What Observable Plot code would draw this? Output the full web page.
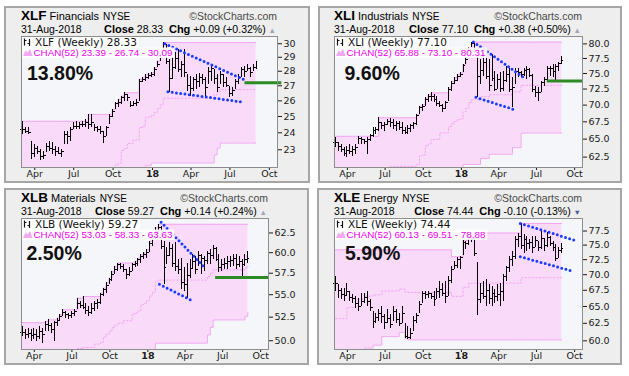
<!DOCTYPE html>
<html><head><meta charset="utf-8">
<script src="https://cdn.jsdelivr.net/npm/d3@7"></script>
<script src="https://cdn.jsdelivr.net/npm/@observablehq/plot@0.6"></script>
<style>
html,body{margin:0;padding:0;background:#fff;}
#root{position:relative;width:629px;height:376px;overflow:hidden;background:#fff;}
.panel{position:absolute;box-sizing:border-box;border:2px solid #a6a6a6;background:#eeeeee;}
</style></head><body><div id="root"></div>
<script>
// ---------- labels ----------
const symbols = ["XLF","XLI","XLB","XLE"];
const sectorNames = ["Financials","Industrials","Materials","Energy"];
const exchange = "NYSE";
const asOfDate = "31-Aug-2018";
const closeValues = ["28.33","77.10","59.27","74.44"];
const changeValues = ["+0.09","+0.38","+0.14","-0.10"];
const changePcts = ["+0.32%","+0.50%","+0.24%","-0.13%"];
const chanLabels = [["23.39","26.74","30.09"],["65.88","73.10","80.31"],["53.03","58.33","63.63"],["60.13","69.51","78.88"]];
const perfLabels = ["13.80%","9.60%","2.50%","5.90%"];
const firstWeek = "2017-03-03";
const xTickDates = ["2017-04-01","2017-07-01","2017-10-01","2018-01-01","2018-04-01","2018-07-01","2018-10-01"];
const xlfTicks = [23,24,25,26,27,28,29,30];
const xliTicks = [62.5,65,67.5,70,72.5,75,77.5,80];
const xlbTicks = [50,52.5,55,57.5,60,62.5];
const xleTicks = [60,62.5,65,67.5,70,72.5,75,77.5];

// ---------- weekly bars (high / low / close) ----------
const xlfHigh = [24.67,24.35,24.31,23.46,23.31,23.21,23.02,22.92,23.35,23.46,23.40,23.21,23.12,23.02,24.10,24.10,24.31,24.61,24.71,24.61,24.71,24.81,25.13,25.10,24.51,24.41,24.41,24.10,24.41,25.13,25.45,25.87,26.09,26.31,26.53,26.42,25.98,25.98,26.09,27.44,27.55,27.78,27.83,27.89,28.25,28.72,29.20,30.09,29.95,28.85,28.97,29.33,29.57,28.72,29.57,27.78,27.66,27.55,27.78,27.83,27.78,27.55,28.25,28.48,28.13,27.78,28.00,27.78,27.55,26.98,26.87,27.44,27.78,28.25,28.36,28.48,28.25,28.48,28.72];
const xlfLow = [23.90,23.94,23.90,22.44,22.58,22.73,22.39,22.44,22.83,22.92,22.73,22.63,22.73,22.58,23.31,23.31,23.50,24.20,24.20,24.20,24.31,24.31,24.20,24.31,24.10,24.00,23.90,23.39,23.80,24.51,24.92,25.45,25.55,25.77,25.98,25.98,25.55,25.66,25.66,25.98,27.20,27.32,27.44,27.60,27.66,28.25,28.72,29.50,28.48,26.53,27.44,28.13,27.90,27.55,27.55,26.64,26.31,26.64,26.76,26.87,27.09,26.20,27.09,27.32,27.09,26.53,27.09,26.87,26.87,26.20,26.31,26.76,27.09,27.55,27.55,28.01,27.55,28.00,28.13];
const xlfClose = [24.20,24.10,24.00,22.80,23.10,22.90,22.60,22.70,23.20,23.10,23.00,22.90,22.80,22.90,23.90,23.80,24.20,24.40,24.40,24.50,24.50,24.60,24.50,24.60,24.30,24.20,24.10,23.80,24.30,25.00,25.30,25.80,25.90,26.20,26.40,26.20,25.70,25.80,25.90,27.30,27.40,27.60,27.70,27.80,28.10,28.50,29.00,30.00,28.70,27.50,28.30,28.90,28.10,28.50,27.90,27.00,26.80,27.40,27.30,27.60,27.40,26.90,28.00,28.20,27.50,26.90,27.80,27.20,27.00,26.50,26.70,27.30,27.60,28.10,28.00,28.20,27.90,28.24,28.33];

const xliHigh = [65.2,64.5,64.25,63.8,64.0,64.25,64.0,64.25,65.4,65.2,64.95,65.2,65.7,66.6,66.6,68.1,67.35,67.35,67.85,68.0,67.85,67.6,67.5,67.35,66.6,66.9,67.1,67.35,68.6,69.85,70.1,71.1,71.65,71.9,71.65,71.4,70.6,70.1,70.6,72.7,73.75,74.3,74.85,75.1,76.5,77.6,79.3,80.31,80.1,78.4,77.3,78.4,77.9,77.3,78.2,75.35,74.85,75.1,75.35,76.2,75.9,74.3,75.9,75.9,75.35,75.9,76.2,75.9,74.85,72.95,72.7,73.75,74.3,76.2,76.2,76.5,76.5,76.75,77.9];
const xliLow = [63.8,63.3,63.1,62.65,62.4,62.9,62.65,62.9,64.25,64.25,64.25,62.9,64.7,65.2,65.7,66.1,66.4,66.1,66.9,66.6,66.4,66.1,66.25,65.7,65.7,65.7,65.9,66.4,66.9,68.6,69.1,69.85,70.35,70.6,70.35,69.85,69.6,68.85,69.35,70.6,72.15,73.2,73.75,74.3,75.1,76.5,78.2,79.3,78.4,71.1,73.2,74.5,74.0,72.15,73.75,72.15,72.4,71.9,72.15,73.5,71.9,69.7,73.2,74.3,74.3,74.55,74.0,74.3,71.9,71.1,70.6,71.9,72.95,73.75,74.55,74.3,73.75,75.35,76.5];
const xliClose = [64.5,63.9,63.6,63.0,63.4,63.3,63.6,63.8,65.1,64.9,64.7,64.9,65.5,66.2,66.4,67.4,66.9,67.1,67.5,67.4,67.0,67.2,66.6,66.2,66.0,66.5,66.9,67.2,68.4,69.6,69.8,70.8,71.3,71.4,70.9,70.3,69.9,69.5,70.4,72.5,73.4,73.9,74.5,74.9,76.3,77.4,79.0,80.0,78.7,74.5,75.5,76.8,74.5,73.0,74.2,72.5,74.0,72.6,73.9,74.9,72.4,72.7,75.3,75.2,74.8,75.5,75.7,74.6,72.5,72.0,71.9,73.5,74.1,75.8,75.9,75.3,76.2,76.7,77.1];

const xlbHigh = [51.5,51.15,51.3,51.15,51.3,51.15,51.5,51.3,52.04,52.2,51.86,52.04,52.4,52.76,53.31,53.12,52.94,53.12,53.31,54.6,54.25,54.8,54.06,53.68,54.06,54.25,54.43,55.19,55.76,56.35,56.93,57.73,58.33,58.73,58.73,58.53,57.93,58.13,58.73,58.93,59.34,59.76,59.97,60.38,61.43,62.28,63.16,63.63,63.37,61.43,60.59,61.22,61.0,61.22,59.14,59.34,58.13,58.73,59.14,59.76,59.55,60.17,59.76,59.55,60.17,60.38,60.9,60.59,59.76,59.14,59.34,59.55,59.55,59.76,59.76,59.55,59.14,59.76,60.17];
const xlbLow = [50.4,50.1,50.27,49.92,50.1,49.92,50.1,49.75,50.98,50.98,50.8,49.9,51.5,52.04,52.58,52.4,52.22,52.4,52.58,53.31,53.5,53.31,52.76,52.58,52.76,53.12,53.31,53.87,54.81,55.19,56.15,56.54,57.33,57.73,57.93,57.53,56.74,57.13,57.73,58.13,58.33,58.73,59.14,59.34,59.97,60.8,61.64,62.28,60.38,56.15,58.53,59.55,58.13,57.73,57.33,55.57,55.38,54.62,56.93,57.93,57.33,58.33,57.33,57.73,58.53,58.53,59.14,58.93,57.53,57.73,57.93,57.93,58.13,58.33,57.93,58.13,57.13,58.33,58.73];
const xlbClose = [50.9,50.6,50.8,50.5,50.7,50.4,51.0,50.6,51.7,51.6,51.2,51.9,52.1,52.6,53.0,52.8,52.7,52.9,53.1,54.0,53.8,53.6,53.2,53.0,53.5,54.0,54.1,55.0,55.6,56.0,56.7,57.4,58.0,58.5,58.3,57.9,57.3,57.7,58.5,58.7,59.2,59.5,59.8,60.0,61.2,62.0,62.7,63.2,60.8,58.2,59.6,60.5,58.7,58.3,57.9,56.4,56.2,57.2,58.1,58.9,58.0,59.6,59.3,59.0,59.9,59.6,60.5,59.2,58.2,58.5,58.7,58.9,59.0,59.3,58.6,58.9,58.5,59.1,59.27];

const xleHigh = [69.72,68.4,67.85,67.85,68.65,67.3,66.8,66.54,66.3,67.05,67.05,67.3,66.0,64.25,64.0,64.5,65.0,63.75,64.5,63.75,65.0,64.5,64.0,65.0,62.52,62.0,61.8,63.5,64.0,65.75,67.3,67.3,67.3,67.05,67.3,67.85,68.9,68.65,68.9,69.72,71.4,72.2,72.8,73.0,75.84,75.6,77.14,77.0,76.6,72.0,68.65,68.9,69.2,68.4,68.1,67.58,68.4,68.65,70.0,71.4,73.05,73.9,76.55,77.1,78.88,76.85,76.55,75.95,76.55,76.55,75.65,77.75,76.25,77.15,76.55,75.65,75.1,74.5,75.36];
const xleLow = [67.3,66.3,66.0,65.8,66.54,65.8,65.5,64.75,64.25,65.0,65.5,65.0,64.25,61.8,62.5,62.76,62.52,61.56,62.52,61.8,62.76,62.52,62.0,62.52,60.3,60.13,60.2,61.3,62.52,64.0,65.5,66.0,66.3,66.0,65.0,66.0,66.3,66.54,65.5,66.54,68.65,70.82,71.1,70.82,73.2,74.2,75.0,75.5,73.0,63.6,65.5,66.0,65.0,65.25,65.0,65.5,65.75,65.0,65.75,68.9,70.3,71.4,72.5,74.5,74.2,73.6,73.9,74.2,73.6,74.5,73.9,74.2,73.9,74.5,74.75,73.9,72.2,72.75,73.6];
const xleClose = [68.5,67.5,66.9,66.7,67.3,66.4,66.2,65.4,65.0,65.8,66.4,65.7,64.8,62.8,63.4,63.9,63.5,62.6,63.2,62.4,64.3,63.0,62.5,64.0,60.6,60.4,61.0,62.9,63.7,65.3,67.0,66.8,67.0,66.5,66.0,67.3,67.7,67.0,66.5,69.1,70.8,71.5,72.5,72.8,75.5,75.3,76.5,76.2,73.6,66.0,67.0,66.5,67.5,66.2,67.0,66.5,66.8,67.3,69.7,71.2,72.5,73.0,76.0,76.6,75.0,76.0,75.2,75.5,74.5,75.8,74.5,76.2,75.0,76.3,75.3,74.6,72.7,74.0,74.44];

// ---------- CHAN(52) band levels: [week number, level] where the level changes ----------
const xlfUpper = [[0,24.7],[22,25.13],[30,25.45],[31,25.87],[32,26.09],[33,26.31],[34,26.53],[39,27.44],[40,27.55],[41,27.78],[42,27.83],[43,27.89],[44,28.25],[45,28.72],[46,29.2],[47,30.09]];
const xlfLower = [[0,17.5],[29,18.4],[33,19.6],[35,20.2],[37,20.6],[39,21.2],[41,22.1],[43,22.25],[64,22.7],[65,23.1],[66,23.39]];
const xliUpper = [[0,65.4],[15,68.1],[28,68.6],[29,69.85],[30,70.1],[31,71.1],[32,71.65],[33,71.9],[39,72.7],[40,73.75],[41,74.3],[42,74.85],[43,75.1],[44,76.5],[45,77.6],[46,79.3],[47,80.31]];
const xliLower = [[0,54.0],[19,54.4],[29,55.5],[31,57.0],[33,58.0],[36,59.9],[39,60.8],[44,61.5],[50,62.3],[53,62.9],[61,63.8],[64,65.88]];
const xlbUpper = [[0,51.9],[8,52.04],[9,52.2],[12,52.4],[13,52.76],[14,53.31],[19,54.6],[21,54.8],[27,55.19],[28,55.76],[29,56.35],[30,56.93],[31,57.73],[32,58.33],[33,58.73],[39,58.93],[40,59.34],[41,59.76],[42,59.97],[43,60.38],[44,61.43],[45,62.28],[46,63.16],[47,63.63]];
const xlbLower = [[0,43.5],[19,43.8],[25,44.5],[28,45.0],[35,45.5],[38,47.0],[41,48.0],[43,48.3],[46,49.75],[64,50.6],[65,51.4],[66,52.2],[77,52.6],[78,53.03]];
const xleUpper = [[0,74.18],[40,73.0],[44,75.84],[46,77.14],[64,78.88]];
const xleLower = [[0,52.2],[4,55.5],[7,58.0],[10,59.0],[13,59.4],[16,60.6],[22,61.2],[24,60.3],[25,60.13]];

// ---------- annotations: trend lines [[date, value],[date, value]] and support [from, to, value] ----------
const xlfTrends = [[["2018-01-30",30.0],["2018-08-07",27.36]],[["2018-02-06",26.6],["2018-07-31",25.92]]];
const xliTrends = [[["2018-01-30",80.35],["2018-05-30",74.4]],[["2018-02-05",71.2],["2018-05-14",69.2]]];
const xlbTrends = [[["2018-02-02",63.9],["2018-05-20",58.1]],[["2018-01-29",56.2],["2018-04-17",54.35]]];
const xleTrends = [[["2018-05-23",78.88],["2018-10-02",75.84]],[["2018-05-23",73.0],["2018-09-20",70.7]]];
const xlfSupport = ["2018-08-05","2018-10-30",27.2];
const xliSupport = ["2018-07-27","2018-10-20",73.8];
const xlbSupport = ["2018-06-14","2018-10-20",56.98];

// ---------- layout ----------
const SANS = "'Liberation Sans', Arial, sans-serif";
const DEJAVU = "'DejaVu Sans', Verdana, sans-serif";
const xDomain = [new Date("2017-03-01"), new Date("2018-10-20")];

const PANELS = [
  {frame:[4,6,310,183], plot:[21,36,277,167], high:xlfHigh, low:xlfLow, close:xlfClose, upper:xlfUpper, lower:xlfLower, yDomain:[22.0,30.55], yTicks:xlfTicks, dec:0, trends:xlfTrends, support:xlfSupport, perf:[27,80]},
  {frame:[318,6,622,183], plot:[334,36,582,167], high:xliHigh, low:xliLow, close:xliClose, upper:xliUpper, lower:xliLower, yDomain:[61.1,81.3], yTicks:xliTicks, dec:1, trends:xliTrends, support:xliSupport, perf:[344.5,80]},
  {frame:[4,188,309,365], plot:[21,218,268,349], high:xlbHigh, low:xlbLow, close:xlbClose, upper:xlbUpper, lower:xlbLower, yDomain:[49.1,64.4], yTicks:xlbTicks, dec:1, trends:xlbTrends, support:xlbSupport, perf:[26.5,260]},
  {frame:[317,188,622,365], plot:[334,218,582,349], high:xleHigh, low:xleLow, close:xleClose, upper:xleUpper, lower:xleLower, yDomain:[58.8,79.8], yTicks:xleTicks, dec:1, trends:xleTrends, support:null, perf:[345,260]}
];

const DAY = 864e5;
function weekDate(i){ return new Date(Date.parse(firstWeek) + i*7*DAY); }
function stepValues(points, n){
  const out = []; let k = 0, v = points[0][1];
  for (let i = 0; i < n; i++){ while (k < points.length && points[k][0] <= i){ v = points[k][1]; k++; } out.push(v); }
  return out;
}
const xTicks = xTickDates.map(d => new Date(d));
const fmtMonth = d3.utcFormat("%b");
const fmtX = d => d.getUTCMonth() === 0 ? String(d.getUTCFullYear()).slice(2) : fmtMonth(d);

const root = document.getElementById("root");

PANELS.forEach(cfg => {
  const [fx0,fy0,fx1,fy1] = cfg.frame;
  const div = document.createElement("div");
  div.className = "panel";
  Object.assign(div.style, {left: fx0+"px", top: fy0+"px", width: (fx1-fx0)+"px", height: (fy1-fy0)+"px"});
  root.appendChild(div);
});

PANELS.forEach(cfg => {
  const [l,t,r,b] = cfg.plot;
  const [fx0,fy0,fx1,fy1] = cfg.frame;
  const mL = 1, mT = 1, mB = 16, mR = fx1 - r - 2;
  const n = cfg.high.length;
  const bars = cfg.high.map((h,i) => {
    const d = weekDate(i);
    return {date:d, high:h, low:cfg.low[i], close:cfg.close[i], open: i > 0 ? cfg.close[i-1] : cfg.close[i],
            left:new Date(+d - 3.5*DAY), right:new Date(+d + 3.5*DAY)};
  });
  const up = stepValues(cfg.upper, n), lo = stepValues(cfg.lower, n);
  const band = up.map((u,i) => ({date:weekDate(i), upper:u, lower:lo[i], middle:(u+lo[i])/2}));
  const trends = cfg.trends.flatMap((seg,k) => seg.map(([d,v]) => ({id:k, date:new Date(d), value:v})));
  const pink = "#f2a4f2";
  const marks = [
    Plot.frame({fill:"#f5f6fa"}),
    Plot.areaY(band, {x:"date", y1:"lower", y2:"upper", curve:"step-after", fill:"#f9dbf9", clip:true}),
    Plot.line(band, {x:"date", y:"middle", curve:"step-after", stroke:pink, strokeWidth:1, strokeDasharray:"1.5,2", clip:true}),
    Plot.line(band, {x:"date", y:"upper", curve:"step-after", stroke:pink, strokeWidth:1, clip:true}),
    Plot.line(band, {x:"date", y:"lower", curve:"step-after", stroke:pink, strokeWidth:1, clip:true}),
    Plot.ruleX(bars, {x:"date", y1:"low", y2:"high", stroke:"#000", strokeWidth:1, shapeRendering:"crispEdges"}),
    Plot.ruleY(bars, {y:"close", x1:"date", x2:"right", stroke:"#000", strokeWidth:1, shapeRendering:"crispEdges"}),
    Plot.ruleY(bars, {y:"open", x1:"left", x2:"date", stroke:"#000", strokeWidth:1, shapeRendering:"crispEdges"}),
    Plot.line(trends, {x:"date", y:"value", z:"id", stroke:"#1a3cff", strokeWidth:3, strokeDasharray:"0,4.3", strokeLinecap:"round"})
  ];
  if (cfg.support) {
    marks.push(Plot.ruleY([{from:new Date(cfg.support[0]), to:new Date(cfg.support[1]), value:cfg.support[2]}],
      {y:"value", x1:"from", x2:"to", stroke:"#2e8a22", strokeWidth:3}));
  }
  marks.push(Plot.frame({stroke:"#8d8d8d"}));
  const chart = Plot.plot({
    width: (r - l) + mL + mR, height: (b - t) + mT + mB,
    marginLeft: mL, marginRight: mR, marginTop: mT, marginBottom: mB,
    style: {fontFamily: DEJAVU, fontSize: "9.5px", color: "#1a1a1a", background: "transparent", overflow: "visible"},
    x: {type:"utc", domain:xDomain, ticks:xTicks, tickFormat:fmtX, tickSize:3, tickPadding:0, label:null},
    y: {type:"log", domain:cfg.yDomain, ticks:cfg.yTicks, tickFormat:d => d.toFixed(cfg.dec), axis:"right", tickSize:4, tickPadding:2, label:null},
    marks
  });
  d3.select(chart).selectAll("text").filter(function(){ return this.textContent === "18"; }).attr("font-weight", "bold");
  chart.style.position = "absolute";
  chart.style.left = (l - mL) + "px";
  chart.style.top = (t - mT) + "px";
  chart.style.maxWidth = "none";
  root.appendChild(chart);
});

// ---------- overlay texts ----------
const ov = d3.select(root).append("svg").attr("width", 629).attr("height", 376)
  .style("position","absolute").style("left","0px").style("top","0px").style("overflow","visible");

PANELS.forEach((cfg,k) => {
  const [l,t,r,b] = cfg.plot;
  const [fx0,fy0] = cfg.frame;
  const y1 = fy0 + 14, y2 = fy0 + 27;
  const h1 = ov.append("text").attr("x", l).attr("y", y1).attr("font-family", SANS).attr("fill", "#000");
  h1.append("tspan").attr("font-size", 13.5).attr("font-weight", "bold").text(symbols[k]);
  h1.append("tspan").attr("dx", 3).attr("font-size", 11).text(sectorNames[k]);
  h1.append("tspan").attr("dx", 4).attr("font-size", 10).text(exchange);
  ov.append("text").attr("x", r).attr("y", y1).attr("text-anchor", "end").attr("font-family", SANS)
    .attr("font-size", 10.5).attr("fill", "#4a4a4a").text("©StockCharts.com");
  ov.append("text").attr("x", l).attr("y", y2).attr("font-family", SANS).attr("font-size", 10.5).attr("fill", "#000").text(asOfDate);
  const isUp = changeValues[k][0] !== "-";
  const h2 = ov.append("text").attr("x", r - 1).attr("y", y2).attr("text-anchor", "end")
    .attr("font-family", SANS).attr("font-size", 10.5).attr("fill", "#000");
  h2.append("tspan").attr("font-weight", "bold").attr("font-size", 11).text("Close");
  h2.append("tspan").text(" " + closeValues[k] + "\u00a0 ");
  h2.append("tspan").attr("font-weight", "bold").attr("font-size", 11).text("Chg");
  h2.append("tspan").text(" " + changeValues[k] + " (" + changePcts[k] + ") ");
  h2.append("tspan").attr("font-size", 7.5).attr("fill", isUp ? "#a3a7b0" : "#4b5f9a").text(isUp ? "▲" : "▼");

  // legend inside plot
  const g = ov.append("g");
  const bg = g.append("g");
  const fg = g.append("g");
  const lt1 = fg.append("text").attr("x", l + 14).attr("y", t + 10).attr("font-family", DEJAVU)
    .attr("font-size", 10.5).attr("fill", "#111").text(symbols[k] + " (Weekly) " + closeValues[k]);
  fg.append("path").attr("d", `M${l+3.5},${t+2.5}V${t+9.5}M${l+3.5},${t+4.5}H${l+5.5}M${l+8.5},${t+3}V${t+10}M${l+6.5},${t+7.5}H${l+8.5}`)
    .attr("stroke", "#111").attr("stroke-width", 1.2).attr("fill", "none");
  const lt2 = fg.append("text").attr("x", l + 12.5).attr("y", t + 20).attr("font-family", SANS)
    .attr("font-size", 9.8).attr("fill", "#e800e8")
    .text("CHAN(52) " + chanLabels[k][0] + " - " + chanLabels[k][1] + " - " + chanLabels[k][2]);
  fg.append("polygon").attr("points", `${l+2},${t+20} ${l+4.5},${t+14.5} ${l+6.5},${t+16.5} ${l+9},${t+13} ${l+11.5},${t+20}`)
    .attr("fill", "#f4a8f4");
  const w1 = lt1.node().getComputedTextLength();
  const w2 = lt2.node().getComputedTextLength();
  bg.append("rect").attr("x", l + 1).attr("y", t + 1).attr("width", 14 + w1 + 1).attr("height", 10.5).attr("fill", "#ffffff").attr("fill-opacity", 0.9);
  bg.append("rect").attr("x", l + 1).attr("y", t + 11.5).attr("width", 12.5 + w2 + 1).attr("height", 10.5).attr("fill", "#ffffff").attr("fill-opacity", 0.9);

  ov.append("text").attr("x", cfg.perf[0]).attr("y", cfg.perf[1]).attr("font-family", SANS)
    .attr("font-weight", "bold").attr("font-size", 19.5).attr("fill", "#111").text(perfLabels[k]);
});
</script></body></html>
